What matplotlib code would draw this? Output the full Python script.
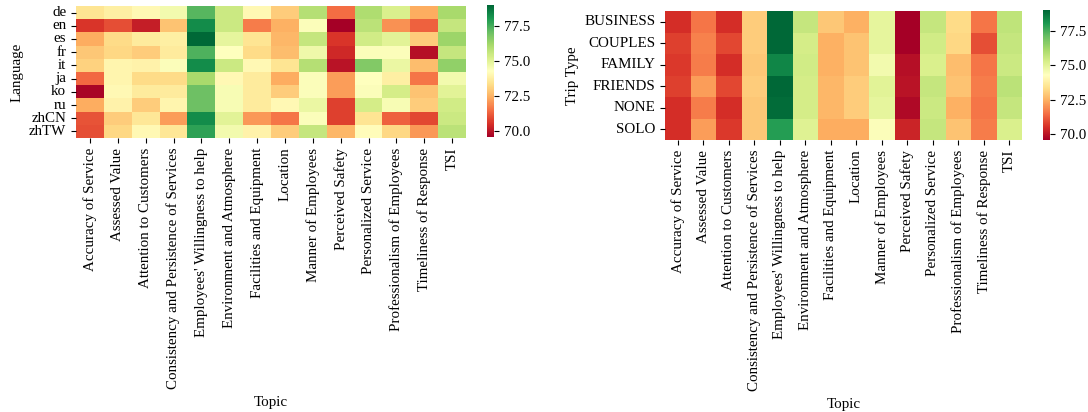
import numpy as np
import matplotlib
matplotlib.use("Agg")
import matplotlib.pyplot as plt
import seaborn as sns
import pandas as pd

plt.rcParams['font.family'] = ['Liberation Serif', 'DejaVu Serif']

topics = [
    "Accuracy of Service", "Assessed Value", "Attention to Customers",
    "Consistency and Persistence of Services", "Employees' Willingness to help",
    "Environment and Atmosphere", "Facilities and Equipment", "Location",
    "Manner of Employees", "Perceived Safety", "Personalized Service",
    "Professionalism of Employees", "Timeliness of Response", "TSI",
]

languages = ["de", "en", "es", "fr", "it", "ja", "ko", "ru", "zhCN", "zhTW"]

lang_de   = [73.5, 73.8, 74.1, 74.6, 77.3, 75.5, 74.1, 73.0, 75.9, 71.5, 76.0, 75.2, 72.4, 76.1]
lang_en   = [70.6, 71.0, 70.2, 72.8, 78.3, 75.5, 71.7, 72.5, 74.4, 69.6, 75.8, 72.0, 71.3, 75.6]
lang_es   = [72.4, 73.3, 73.7, 73.8, 79.0, 74.9, 73.5, 72.6, 75.6, 70.6, 75.4, 75.0, 73.0, 76.3]
lang_fr   = [72.9, 73.2, 73.0, 73.7, 77.4, 74.3, 73.3, 72.7, 74.7, 70.4, 74.4, 74.4, 69.9, 75.6]
lang_it   = [73.1, 74.0, 73.9, 74.4, 78.3, 75.5, 74.1, 73.5, 75.9, 70.0, 76.7, 74.8, 72.7, 76.5]
lang_ja   = [71.4, 74.0, 73.3, 73.3, 76.1, 74.1, 73.7, 72.4, 74.4, 72.2, 74.3, 73.8, 71.6, 74.6]
lang_ko   = [69.7, 74.1, 73.7, 73.7, 77.0, 74.5, 73.7, 73.0, 74.4, 72.2, 74.4, 75.3, 72.8, 75.0]
lang_ru   = [72.4, 73.9, 73.0, 74.0, 77.0, 74.5, 73.7, 74.1, 74.8, 70.8, 75.3, 74.5, 73.0, 75.4]
lang_zhCN = [71.1, 73.0, 73.6, 72.2, 78.3, 75.0, 72.1, 71.6, 74.4, 70.8, 73.5, 71.3, 70.9, 75.5]
lang_zhTW = [71.0, 73.2, 74.1, 73.6, 77.8, 74.6, 73.9, 73.0, 75.6, 72.6, 74.2, 73.2, 72.1, 75.8]

trip_types = ["BUSINESS", "COUPLES", "FAMILY", "FRIENDS", "NONE", "SOLO"]

trip_business = [70.5, 71.6, 70.5, 73.0, 79.0, 75.6, 72.9, 72.5, 74.9, 69.6, 75.6, 73.3, 71.6, 75.7]
trip_couples  = [70.8, 71.8, 70.9, 73.0, 79.0, 75.3, 72.5, 72.8, 74.9, 69.6, 75.4, 73.2, 71.0, 75.6]
trip_family   = [70.7, 71.7, 70.5, 72.9, 78.4, 75.4, 72.5, 72.8, 74.6, 69.9, 75.2, 72.7, 71.6, 75.5]
trip_friends  = [70.8, 72.2, 70.9, 73.0, 79.0, 75.3, 72.6, 73.0, 75.0, 70.0, 75.6, 72.8, 71.7, 75.8]
trip_none     = [70.5, 71.7, 70.5, 72.9, 78.9, 75.3, 72.6, 73.0, 74.9, 69.8, 75.5, 72.5, 71.6, 75.6]
trip_solo     = [70.5, 72.2, 70.7, 72.9, 77.9, 75.1, 72.4, 72.4, 74.4, 70.3, 75.6, 72.8, 71.7, 75.2]

lang_df = pd.DataFrame(
    [lang_de, lang_en, lang_es, lang_fr, lang_it, lang_ja, lang_ko, lang_ru, lang_zhCN, lang_zhTW],
    index=languages, columns=topics)
trip_df = pd.DataFrame(
    [trip_business, trip_couples, trip_family, trip_friends, trip_none, trip_solo],
    index=trip_types, columns=topics)

W, H = 1088, 412
fig = plt.figure(figsize=(W / 100, H / 100), dpi=100)

def box(x0, y0, x1, y1):
    return [x0 / W, 1 - y1 / H, (x1 - x0) / W, (y1 - y0) / H]

ax1 = fig.add_axes(box(76, 6, 466, 138))
cax1 = fig.add_axes(box(487, 5, 494, 137))
ax2 = fig.add_axes(box(665, 11, 1022, 140))
cax2 = fig.add_axes(box(1043, 10, 1050, 140))

fs = 10.8
for df, ax, cax, ylab in [(lang_df, ax1, cax1, "Language"), (trip_df, ax2, cax2, "Trip Type")]:
    sns.heatmap(df, ax=ax, cbar_ax=cax, cmap="RdYlGn",
                xticklabels=True, yticklabels=True)
    ax.set_xlabel("Topic", fontsize=fs, labelpad=5)
    ax.set_ylabel(ylab, fontsize=fs)
    ax.tick_params(axis="x", labelrotation=90, labelsize=fs)
    ax.tick_params(axis="y", labelrotation=0, labelsize=fs)
    cax.set_yticks([70.0, 72.5, 75.0, 77.5])
    cax.set_yticklabels(["70.0", "72.5", "75.0", "77.5"], fontsize=fs)

fig.savefig("out.png", dpi=100)
